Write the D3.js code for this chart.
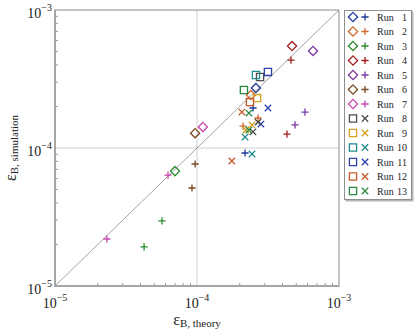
<!DOCTYPE html>
<html>
<head>
<meta charset="utf-8">
<script src="https://cdn.jsdelivr.net/npm/d3@7"></script>
<style>
  body { margin: 0; background: #fff; }
  svg text { font-family: "Liberation Serif", "Times New Roman", Tinos, serif; }
</style>
</head>
<body>
<svg id="chart" width="415" height="333"></svg>
<script>
// runs 1-7: diamond + two pluses, runs 8-13: square + two crosses
const runs = ['1', '2', '3', '4', '5', '6', '7', '8', '9', '10', '11', '12', '13'];
const colors = ['#1f3a9e', '#d2642a', '#2a8c2a', '#a31c1c', '#7a3aa3', '#7a4a22', '#c848b0',
	'#4d4d4d', '#d4a020', '#1f8a8a', '#2a40b0', '#c85a2a', '#2a8a40'];

const theoryMain = [2.60e-4, 2.40e-4, 7.0e-5, 4.67e-4, 6.56e-4, 9.7e-5, 1.10e-4,
	2.78e-4, 2.65e-4, 2.60e-4, 3.16e-4, 2.36e-4, 2.14e-4];
const simMain = [2.72e-4, 2.42e-4, 6.8e-5, 5.48e-4, 5.05e-4, 1.28e-4, 1.42e-4,
	3.27e-4, 2.30e-4, 3.38e-4, 3.56e-4, 2.15e-4, 2.63e-4];

const theoryA = [2.48e-4, 2.69e-4, 5.67e-5, 4.59e-4, 5.76e-4, 9.7e-5, 6.25e-5,
	2.69e-4, 2.44e-4, 2.18e-4, 3.16e-4, 2.07e-4, 2.32e-4];
const simA = [1.95e-4, 1.65e-4, 2.96e-5, 4.34e-4, 1.82e-4, 7.66e-5, 6.37e-5,
	1.54e-4, 1.47e-4, 1.20e-4, 1.95e-4, 1.82e-4, 1.79e-4];

const theoryB = [2.18e-4, 2.11e-4, 4.24e-5, 4.30e-4, 4.90e-4, 9.22e-5, 2.32e-5,
	2.48e-4, 2.21e-4, 2.44e-4, 2.82e-4, 1.76e-4, 2.32e-4];
const simB = [9.2e-5, 1.44e-4, 1.92e-5, 1.26e-4, 1.47e-4, 5.13e-5, 2.19e-5,
	1.31e-4, 1.35e-4, 9.05e-5, 1.49e-4, 8.05e-5, 1.35e-4];

const decades = [1e-5, 1e-4, 1e-3];
const exponents = ['\u22125', '\u22124', '\u22123'];

const svg = d3.select('#chart');
const pLeft = 55, pRight = 339, pTop = 10, pBottom = 286;

const x = d3.scaleLog().domain([1e-5, 1e-3]).range([pLeft, pRight]);
const y = d3.scaleLog().domain([1e-5, 1e-3]).range([pBottom, pTop]);

const minor = [];
[1e-5, 1e-4].forEach(d => { for (let k = 2; k <= 9; k++) minor.push(d * k); });

// grid at 1e-4
svg.append('line').attr('x1', x(1e-4)).attr('x2', x(1e-4)).attr('y1', pTop).attr('y2', pBottom)
	.attr('stroke', '#cfcfcf').attr('stroke-width', 1);
svg.append('line').attr('x1', pLeft).attr('x2', pRight).attr('y1', y(1e-4)).attr('y2', y(1e-4))
	.attr('stroke', '#cfcfcf').attr('stroke-width', 1);

// diagonal y = x
svg.append('line').attr('x1', x(1e-5)).attr('y1', y(1e-5)).attr('x2', x(1e-3)).attr('y2', y(1e-3))
	.attr('stroke', '#8c8c8c').attr('stroke-width', 0.8);

// frame
svg.append('line').attr('x1', pLeft).attr('x2', pRight).attr('y1', pTop).attr('y2', pTop)
	.attr('stroke', '#8a8a8a').attr('stroke-width', 1);
svg.append('line').attr('x1', pRight).attr('x2', pRight).attr('y1', pTop).attr('y2', pBottom)
	.attr('stroke', '#8a8a8a').attr('stroke-width', 1);
svg.append('line').attr('x1', pLeft).attr('x2', pRight + 0.5).attr('y1', pBottom).attr('y2', pBottom)
	.attr('stroke', '#a6a6a6').attr('stroke-width', 2);
svg.append('line').attr('x1', pLeft).attr('x2', pLeft).attr('y1', pTop - 0.5).attr('y2', pBottom + 1)
	.attr('stroke', '#a6a6a6').attr('stroke-width', 2);

// minor ticks inside
svg.append('g').selectAll('line').data(minor).join('line')
	.attr('x1', d => x(d)).attr('x2', d => x(d)).attr('y1', pBottom - 1).attr('y2', pBottom - 3)
	.attr('stroke', '#999').attr('stroke-width', 1);
svg.append('g').selectAll('line').data(minor).join('line')
	.attr('y1', d => y(d)).attr('y2', d => y(d)).attr('x1', pLeft + 1).attr('x2', pLeft + 3)
	.attr('stroke', '#999').attr('stroke-width', 1);

// tick labels
const xl = svg.append('g').selectAll('text').data(decades).join('text')
	.attr('x', d => x(d)).attr('y', 308).attr('text-anchor', 'middle')
	.attr('font-size', 14).attr('fill', '#222');
xl.append('tspan').text('10');
xl.append('tspan').attr('dy', -7).attr('font-size', 10).text((d, i) => exponents[i]);

const yl = svg.append('g').selectAll('text').data(decades).join('text')
	.attr('x', pLeft - 3).attr('y', d => y(d) + 8).attr('text-anchor', 'end')
	.attr('font-size', 14).attr('fill', '#222');
yl.append('tspan').text('10');
yl.append('tspan').attr('dy', -7).attr('font-size', 10).text((d, i) => exponents[i]);

// axis titles
const xt = svg.append('text').attr('x', x(1e-4)).attr('y', 325).attr('text-anchor', 'middle')
	.attr('fill', '#222');
xt.append('tspan').attr('font-size', 16).text('\u03b5');
xt.append('tspan').attr('font-size', 11).attr('dy', 2).text('B, theory');

const yt = svg.append('text').attr('transform', `translate(16,${y(1e-4)}) rotate(-90)`)
	.attr('text-anchor', 'middle').attr('fill', '#222');
yt.append('tspan').attr('font-size', 16).text('\u03b5');
yt.append('tspan').attr('font-size', 11).attr('dy', 2).text('B, simulation');

// marker shapes
function diamond(r) { return `M0,${-r}L${r},0L0,${r}L${-r},0Z`; }
function square(h) { return `M${-h},${-h}H${h}V${h}H${-h}Z`; }
function plus(h) { return `M${-h},0H${h}M0,${-h}V${h}`; }
function cross(h) { return `M${-h},${-h}L${h},${h}M${-h},${h}L${h},${-h}`; }

const openShape = i => (i < 7 ? diamond(4.6) : square(3.6));
const lineShape = i => (i < 7 ? plus(3.6) : cross(3.2));

const idx = d3.range(runs.length);
const marks = svg.append('g');

marks.selectAll('path.b').data(idx).join('path').attr('class', 'b')
	.attr('transform', i => `translate(${x(theoryB[i])},${y(simB[i])})`)
	.attr('d', lineShape).attr('fill', 'none').attr('stroke', i => colors[i]).attr('stroke-width', 1.3);
marks.selectAll('path.a').data(idx).join('path').attr('class', 'a')
	.attr('transform', i => `translate(${x(theoryA[i])},${y(simA[i])})`)
	.attr('d', lineShape).attr('fill', 'none').attr('stroke', i => colors[i]).attr('stroke-width', 1.3);
marks.selectAll('path.m').data(idx).join('path').attr('class', 'm')
	.attr('transform', i => `translate(${x(theoryMain[i])},${y(simMain[i])})`)
	.attr('d', openShape).attr('fill', 'none').attr('stroke', i => colors[i]).attr('stroke-width', 1.3);

// legend
const lg = svg.append('g');
const rowY = d3.scaleLinear().domain([0, runs.length - 1]).range([17, 191]);
lg.append('rect').attr('x', 345.5).attr('y', 11.5).attr('width', 68).attr('height', 190)
	.attr('fill', '#b5b5b5');
lg.append('rect').attr('x', 344.5).attr('y', 10.5).attr('width', 67).attr('height', 189)
	.attr('fill', '#fff').attr('stroke', '#8f8f8f').attr('stroke-width', 1);

const rows = lg.selectAll('g.row').data(idx).join('g').attr('class', 'row')
	.attr('transform', i => `translate(0,${rowY(i)})`);
rows.append('path').attr('transform', 'translate(353,0)').attr('d', openShape)
	.attr('fill', 'none').attr('stroke', i => colors[i]).attr('stroke-width', 1.3);
rows.append('path').attr('transform', 'translate(365,0)').attr('d', lineShape)
	.attr('fill', 'none').attr('stroke', i => colors[i]).attr('stroke-width', 1.3);
rows.append('text').attr('x', 377).attr('y', 3.5).attr('font-size', 10).attr('fill', '#222').text('Run');
rows.append('text').attr('x', 407).attr('y', 3.5).attr('font-size', 10).attr('fill', '#222')
	.attr('text-anchor', 'end').text(i => runs[i]);
</script>
</body>
</html>
